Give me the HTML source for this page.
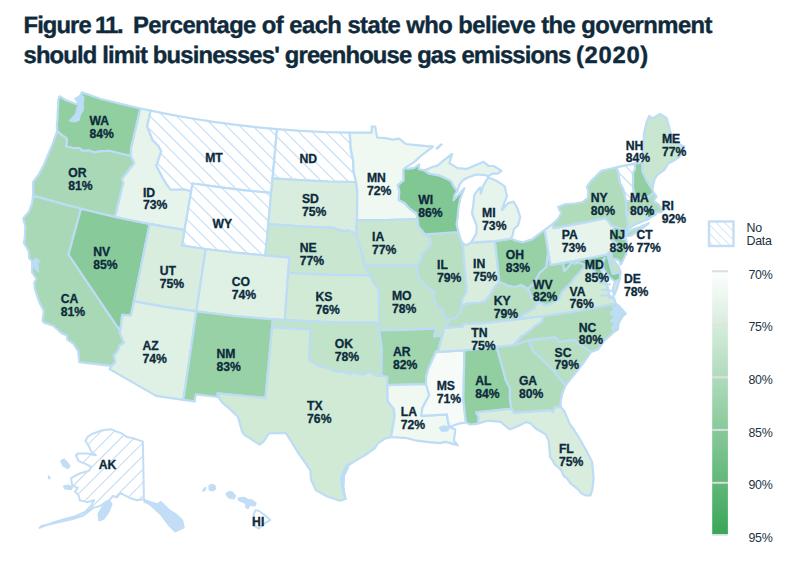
<!DOCTYPE html>
<html><head><meta charset="utf-8">
<style>
html,body{margin:0;padding:0;background:#fff;}
body{width:807px;height:576px;overflow:hidden;position:relative;font-family:"Liberation Sans",sans-serif;}
.title{position:absolute;left:23.5px;top:0;color:#0f2a3b;font-weight:bold;font-size:23.8px;line-height:30.2px;white-space:nowrap;letter-spacing:-0.66px;text-rendering:geometricPrecision;-webkit-text-stroke:0.4px #0f2a3b;}
svg{position:absolute;left:0;top:0;}
.lab text{font-family:"Liberation Sans",sans-serif;font-weight:bold;font-size:12.2px;fill:#0d2a3c;stroke:#0d2a3c;stroke-width:0.3px;}
.leg text{font-family:"Liberation Sans",sans-serif;font-size:12.4px;letter-spacing:-0.3px;fill:#1a3142;}
</style></head><body>
<svg width="807" height="576" viewBox="0 0 807 576">
<defs>
<pattern id="hatch" patternUnits="userSpaceOnUse" width="9.4" height="9.4" patternTransform="translate(-6.7,0) rotate(-45)">
<rect width="9.4" height="9.4" fill="#fff"/><line x1="0" y1="0" x2="0" y2="9.4" stroke="#bcdaf4" stroke-width="2"/>
</pattern>
<pattern id="hatchL" patternUnits="userSpaceOnUse" width="6.1" height="6.1" patternTransform="translate(1,0) rotate(-45)">
<rect width="6.1" height="6.1" fill="#fff"/><line x1="0" y1="0" x2="0" y2="6.1" stroke="#c4ddf4" stroke-width="1.4"/>
</pattern>
<linearGradient id="lg" x1="0" y1="0" x2="0" y2="1">
<stop offset="0" stop-color="#ffffff"/><stop offset="1" stop-color="#3aa658"/>
</linearGradient>
</defs>
<g stroke="#bddcf5" stroke-width="2.2" stroke-linejoin="round">
<path d="M81.8 92.4 L100.9 99.0 L120.6 103.9 L140.4 108.5 L131.0 149.0 L130.8 156.0 L108.5 150.8 L104.7 151.0 L100.6 151.3 L93.9 152.4 L89.2 150.5 L82.8 150.8 L79.4 148.2 L72.0 147.8 L66.0 146.2 L67.1 140.8 L66.2 138.0 L61.8 135.1 L57.2 131.2 L56.8 125.5 L57.5 119.5 L57.8 110.0 L58.4 100.0 L59.4 96.3 L66.0 100.2 L72.0 102.6 L76.5 104.3 L80.5 101.5 L79.5 97.8 L81.8 92.4Z" fill="#91cea0"/>
<path d="M33.0 195.6 L33.2 181.8 L38.6 174.7 L43.5 165.8 L47.1 157.0 L52.7 143.9 L57.2 131.2 L61.8 135.1 L66.2 138.0 L67.1 140.8 L66.0 146.2 L72.0 147.8 L79.4 148.2 L82.8 150.8 L89.2 150.5 L93.9 152.4 L100.6 151.3 L104.7 151.0 L108.5 150.8 L130.8 156.0 L134.3 163.1 L128.9 170.0 L122.1 178.9 L123.4 183.2 L121.7 189.3 L115.1 216.9 L98.0 213.0 L81.0 208.8 L56.9 202.4 L33.0 195.6Z" fill="#a8d8b5"/>
<path d="M33.0 195.6 L56.9 202.4 L81.0 208.8 L68.5 254.6 L120.1 330.9 L119.7 332.9 L124.2 342.9 L119.8 345.3 L117.6 351.3 L113.8 355.3 L115.4 362.1 L111.6 365.8 L79.4 362.2 L78.2 351.1 L73.2 343.5 L67.4 339.7 L67.0 335.6 L62.1 333.6 L53.3 325.7 L44.0 322.6 L42.5 320.6 L43.8 311.1 L39.1 301.7 L34.8 289.0 L34.3 282.5 L36.5 279.0 L35.5 277.5 L32.2 272.5 L32.2 261.0 L29.3 258.5 L28.7 251.0 L24.0 243.2 L24.8 237.7 L25.3 226.3 L23.2 218.4 L29.0 211.7 L32.1 203.5 L33.0 195.6Z" fill="#a8d8b5"/>
<path d="M81.0 208.8 L98.0 213.0 L115.1 216.9 L132.4 220.5 L149.7 223.9 L133.9 301.3 L131.0 315.3 L122.1 314.8 L121.3 323.0 L120.1 330.9 L68.5 254.6 L81.0 208.8Z" fill="#89ca9a"/>
<path d="M140.4 108.5 L150.6 110.7 L147.2 126.4 L149.7 132.7 L152.6 139.9 L158.6 146.0 L161.3 151.4 L156.3 166.0 L158.0 168.7 L162.1 176.7 L166.9 184.7 L170.6 189.4 L175.8 189.5 L184.6 189.3 L191.2 191.2 L184.6 229.9 L167.1 227.1 L149.7 223.9 L132.4 220.5 L115.1 216.9 L121.7 189.3 L123.4 183.2 L122.1 178.9 L128.9 170.0 L134.3 163.1 L130.8 156.0 L131.0 149.0 L140.4 108.5Z" fill="#e7f4eb"/>
<path d="M150.6 110.7 L171.5 114.8 L192.4 118.5 L213.5 121.8 L234.6 124.7 L255.7 127.1 L277.0 129.1 L272.6 178.3 L271.2 192.9 L244.9 190.4 L218.6 187.2 L192.5 183.5 L191.2 191.2 L184.6 189.3 L175.8 189.5 L170.6 189.4 L166.9 184.7 L162.1 176.7 L158.0 168.7 L156.3 166.0 L161.3 151.4 L158.6 146.0 L152.6 139.9 L149.7 132.7 L147.2 126.4 L150.6 110.7Z" fill="url(#hatch)"/>
<path d="M192.5 183.5 L218.6 187.2 L244.9 190.4 L271.2 192.9 L268.3 224.1 L265.3 255.5 L235.5 252.6 L205.7 249.0 L181.9 245.5 L184.6 229.9 L191.2 191.2 L192.5 183.5Z" fill="url(#hatch)"/>
<path d="M149.7 223.9 L167.1 227.1 L184.6 229.9 L181.9 245.5 L205.7 249.0 L196.4 311.4 L165.1 306.8 L133.9 301.3 L149.7 223.9Z" fill="#d8eddd"/>
<path d="M205.7 249.0 L235.5 252.6 L265.3 255.5 L289.3 257.3 L288.2 273.0 L284.8 320.2 L272.8 319.4 L234.5 316.0 L196.4 311.4 L205.7 249.0Z" fill="#dff1e4"/>
<path d="M133.9 301.3 L165.1 306.8 L196.4 311.4 L183.4 399.8 L156.1 395.9 L109.6 369.1 L111.6 365.8 L115.4 362.1 L113.8 355.3 L117.6 351.3 L119.8 345.3 L124.2 342.9 L119.7 332.9 L120.1 330.9 L121.3 323.0 L122.1 314.8 L131.0 315.3 L133.9 301.3Z" fill="#dff1e4"/>
<path d="M196.4 311.4 L234.5 316.0 L272.8 319.4 L272.1 327.3 L265.5 397.9 L217.5 393.4 L218.3 397.0 L195.7 394.3 L194.7 401.3 L183.4 399.8 L196.4 311.4Z" fill="#99d1a7"/>
<path d="M277.0 129.1 L301.1 130.9 L325.3 132.1 L349.6 132.7 L350.3 140.7 L350.7 148.7 L353.2 160.9 L353.6 171.4 L356.1 182.0 L328.2 181.5 L300.4 180.2 L272.6 178.3 L277.0 129.1Z" fill="url(#hatch)"/>
<path d="M272.6 178.3 L300.4 180.2 L328.2 181.5 L356.1 182.0 L357.3 192.0 L357.0 220.2 L356.3 228.1 L356.8 236.0 L353.3 232.8 L348.1 230.4 L344.5 231.1 L339.3 230.2 L332.9 227.7 L303.8 226.6 L268.3 224.1 L271.2 192.9 L272.6 178.3Z" fill="#d8eddd"/>
<path d="M268.3 224.1 L303.8 226.6 L332.9 227.7 L339.3 230.2 L344.5 231.1 L348.1 230.4 L353.3 232.8 L356.8 236.0 L359.1 243.8 L361.4 251.7 L362.9 256.4 L364.7 265.9 L370.3 275.3 L329.2 274.9 L288.2 273.0 L289.3 257.3 L265.3 255.5 L268.3 224.1Z" fill="#c8e6d0"/>
<path d="M288.2 273.0 L329.2 274.9 L370.3 275.3 L373.4 282.4 L378.9 289.4 L379.1 322.6 L331.9 322.3 L284.8 320.2 L288.2 273.0Z" fill="#d0ead6"/>
<path d="M272.8 319.4 L284.8 320.2 L331.9 322.3 L379.1 322.6 L379.2 330.5 L381.8 347.8 L381.4 375.5 L375.8 376.2 L370.5 371.5 L362.6 374.7 L354.0 372.3 L350.6 373.8 L342.7 372.2 L334.2 371.2 L327.6 367.9 L319.1 366.1 L314.0 363.1 L308.9 360.0 L310.4 329.5 L272.1 327.3 L272.8 319.4Z" fill="#c0e3c9"/>
<path d="M272.1 327.3 L310.4 329.5 L308.9 360.0 L314.0 363.1 L319.1 366.1 L327.6 367.9 L334.2 371.2 L342.7 372.2 L350.6 373.8 L354.0 372.3 L362.6 374.7 L370.5 371.5 L375.8 376.2 L381.4 375.5 L387.3 376.8 L387.4 385.1 L387.6 401.2 L393.8 408.9 L394.6 416.7 L392.7 427.7 L391.0 437.1 L384.6 438.8 L377.6 443.6 L375.0 448.0 L365.3 455.0 L355.6 460.6 L347.2 466.1 L344.4 471.7 L341.7 480.0 L343.0 491.1 L345.8 498.8 L340.3 500.8 L327.8 496.7 L316.0 490.4 L311.1 480.0 L310.4 472.4 L310.6 470.8 L305.3 462.8 L297.3 451.5 L291.5 441.9 L285.8 432.9 L277.4 433.2 L269.0 433.5 L263.5 441.7 L259.7 444.5 L253.7 440.9 L244.2 434.7 L242.0 431.3 L237.9 416.8 L229.7 408.9 L222.2 402.6 L218.3 397.0 L217.5 393.4 L265.5 397.9 L272.1 327.3Z" fill="#d0ead6"/>
<path d="M349.6 132.7 L371.8 132.7 L371.7 126.6 L375.2 126.6 L377.1 137.5 L385.2 138.2 L392.7 139.6 L399.1 138.6 L405.8 144.0 L416.6 145.1 L426.4 146.2 L433.0 146.6 L421.5 155.3 L414.1 162.1 L405.5 167.7 L403.4 169.9 L403.7 180.4 L397.7 185.3 L399.4 191.5 L398.7 200.1 L404.5 203.0 L409.3 208.3 L416.4 213.5 L417.6 219.0 L387.3 220.0 L357.0 220.2 L357.3 192.0 L356.1 182.0 L353.6 171.4 L353.2 160.9 L350.7 148.7 L350.3 140.7 L349.6 132.7Z" fill="#eff8f1"/>
<path d="M357.0 220.2 L387.3 220.0 L417.6 219.0 L418.7 226.8 L425.1 234.3 L430.5 238.7 L430.9 245.0 L426.4 250.0 L421.8 254.2 L420.9 259.7 L418.1 264.6 L417.4 268.1 L413.5 264.8 L389.7 265.6 L364.7 265.9 L362.9 256.4 L361.4 251.7 L359.1 243.8 L356.8 236.0 L356.3 228.1 L357.0 220.2Z" fill="#c8e6d0"/>
<path d="M364.7 265.9 L389.7 265.6 L413.5 264.8 L417.4 268.1 L418.7 278.0 L426.4 286.3 L434.1 291.4 L433.7 295.4 L436.2 304.7 L442.8 310.6 L445.2 318.4 L448.8 320.0 L448.7 322.9 L444.2 327.9 L442.5 335.9 L433.9 336.4 L436.3 328.4 L406.2 329.8 L379.2 330.5 L379.1 322.6 L378.9 289.4 L373.4 282.4 L370.3 275.3 L364.7 265.9Z" fill="#c0e3c9"/>
<path d="M379.2 330.5 L406.2 329.8 L436.3 328.4 L433.9 336.4 L442.5 335.9 L440.3 342.4 L438.8 349.6 L435.7 352.1 L432.2 360.2 L428.6 368.3 L426.3 376.3 L426.0 384.2 L387.4 385.1 L387.3 376.8 L381.4 375.5 L381.8 347.8 L379.2 330.5Z" fill="#a0d5ae"/>
<path d="M426.0 384.2 L387.4 385.1 L387.6 401.2 L393.8 408.9 L394.6 416.7 L392.7 427.7 L391.0 437.1 L406.2 438.0 L416.8 440.7 L428.7 442.1 L440.0 443.1 L445.6 441.9 L457.7 445.1 L453.9 440.6 L455.3 429.6 L449.5 427.1 L447.8 420.7 L447.0 414.4 L421.3 415.8 L422.4 407.9 L429.3 395.0 L426.0 384.2Z" fill="#eff8f1"/>
<path d="M435.7 352.1 L463.0 350.3 L464.4 351.7 L463.4 399.1 L464.8 413.2 L465.9 422.5 L457.7 423.9 L449.5 427.1 L447.8 420.7 L447.0 414.4 L421.3 415.8 L422.4 407.9 L429.3 395.0 L426.0 384.2 L426.3 376.3 L428.6 368.3 L432.2 360.2 L435.7 352.1Z" fill="#f7fbf8"/>
<path d="M463.0 350.3 L496.7 347.1 L505.9 380.2 L510.0 388.4 L509.9 399.5 L511.6 408.8 L476.1 412.3 L478.6 416.8 L478.2 423.4 L474.3 424.2 L470.2 424.5 L465.9 422.5 L464.8 413.2 L463.4 399.1 L464.4 351.7 L463.0 350.3Z" fill="#91cea0"/>
<path d="M518.4 319.2 L543.7 316.0 L541.7 321.7 L537.0 324.7 L530.0 330.5 L521.6 336.3 L517.1 341.7 L513.3 345.3 L496.7 347.1 L463.0 350.3 L435.7 352.1 L438.8 349.6 L440.3 342.4 L442.5 335.9 L444.2 327.9 L463.0 326.5 L462.9 324.2 L482.6 323.2 L518.4 319.2Z" fill="#d8eddd"/>
<path d="M518.4 319.2 L482.6 323.2 L462.9 324.2 L463.0 326.5 L444.2 327.9 L448.7 322.9 L448.8 320.0 L456.0 317.6 L461.2 311.7 L461.7 306.1 L467.5 303.2 L478.8 303.0 L484.9 301.1 L489.1 296.4 L494.2 287.9 L499.4 281.8 L507.6 285.6 L515.3 287.0 L521.2 284.7 L528.1 289.0 L531.8 297.6 L537.9 301.8 L534.7 308.3 L525.1 313.6 L518.4 319.2Z" fill="#b8dfc2"/>
<path d="M458.4 232.0 L425.1 234.3 L430.5 238.7 L430.9 245.0 L426.4 250.0 L421.8 254.2 L420.9 259.7 L418.1 264.6 L417.4 268.1 L418.7 278.0 L426.4 286.3 L434.1 291.4 L433.7 295.4 L436.2 304.7 L442.8 310.6 L445.2 318.4 L448.8 320.0 L456.0 317.6 L461.2 311.7 L461.7 306.1 L462.1 298.9 L466.0 293.1 L466.7 287.4 L465.8 281.2 L462.7 243.3 L460.8 239.7 L458.4 232.0Z" fill="#b8dfc2"/>
<path d="M462.7 243.3 L466.1 245.3 L471.0 242.6 L495.0 241.1 L499.4 281.8 L494.2 287.9 L489.1 296.4 L484.9 301.1 L478.8 303.0 L467.5 303.2 L461.7 306.1 L462.1 298.9 L466.0 293.1 L466.7 287.4 L465.8 281.2 L462.7 243.3Z" fill="#d8eddd"/>
<path d="M495.0 241.1 L510.9 238.7 L516.6 240.8 L522.8 242.3 L532.0 239.4 L538.5 234.5 L544.7 229.8 L548.1 250.7 L547.9 255.3 L547.0 261.1 L546.6 266.7 L540.1 272.5 L536.6 278.6 L533.0 283.9 L528.1 289.0 L521.2 284.7 L515.3 287.0 L507.6 285.6 L499.4 281.8 L495.0 241.1Z" fill="#99d1a7"/>
<path d="M425.1 234.3 L418.7 226.8 L417.6 219.0 L416.4 213.5 L409.3 208.3 L404.5 203.0 L398.7 200.1 L399.4 191.5 L397.7 185.3 L403.7 180.4 L403.4 169.9 L405.5 167.7 L407.8 168.9 L414.4 167.8 L419.2 164.3 L418.8 169.2 L424.2 170.4 L429.1 173.5 L439.2 175.3 L445.0 178.1 L450.8 180.8 L454.1 186.8 L457.3 191.2 L454.7 194.6 L453.5 200.2 L458.2 195.0 L464.4 188.2 L460.2 198.8 L458.6 206.8 L457.7 216.3 L456.6 224.3 L458.4 232.0 L425.1 234.3Z" fill="#81c793"/>
<path d="M457.3 191.2 L459.6 184.7 L462.6 180.5 L467.4 177.7 L476.1 174.5 L485.1 175.1 L488.1 176.4 L492.8 173.4 L497.9 173.6 L501.5 170.7 L493.6 166.0 L488.5 165.8 L483.7 161.8 L474.1 165.8 L466.6 168.9 L457.6 168.1 L449.4 163.1 L452.0 154.0 L443.7 160.3 L437.5 165.6 L433.1 166.7 L424.2 170.4 L429.1 173.5 L439.2 175.3 L445.0 178.1 L450.8 180.8 L454.1 186.8 L457.3 191.2ZM471.0 242.6 L476.3 233.6 L476.7 225.6 L472.0 213.5 L473.4 203.9 L474.2 195.1 L477.7 190.1 L480.2 187.4 L480.9 193.7 L483.0 186.4 L485.3 182.2 L488.4 177.4 L495.3 180.2 L504.6 186.2 L507.0 196.1 L504.0 203.6 L501.9 210.2 L508.0 203.1 L513.6 201.6 L517.4 208.2 L520.2 217.3 L518.0 225.5 L513.8 229.2 L512.8 234.9 L510.9 238.7 L495.0 241.1 L471.0 242.6Z" fill="#e7f4eb"/>
<path d="M496.7 347.1 L513.3 345.3 L528.7 340.2 L530.6 344.7 L532.8 350.8 L540.4 357.7 L547.4 364.6 L554.5 371.5 L559.7 378.7 L565.5 385.3 L562.1 394.2 L560.6 402.4 L560.6 406.8 L554.4 407.7 L553.0 412.2 L550.6 410.1 L514.1 413.2 L511.6 408.8 L509.9 399.5 L510.0 388.4 L505.9 380.2 L496.7 347.1Z" fill="#b0dcbb"/>
<path d="M511.6 408.8 L476.1 412.3 L478.6 416.8 L478.2 423.4 L487.9 420.6 L500.5 421.8 L509.7 429.4 L520.5 425.1 L525.7 422.1 L530.0 423.0 L536.3 429.0 L545.6 434.2 L548.7 440.8 L549.6 450.6 L550.0 456.8 L552.6 460.3 L554.5 464.4 L558.9 467.9 L561.7 471.0 L563.5 475.6 L567.2 478.6 L570.5 483.4 L578.3 489.6 L581.5 493.6 L586.0 495.5 L590.5 495.3 L592.4 489.4 L593.6 478.3 L592.5 466.0 L592.0 461.7 L586.3 450.5 L579.3 438.3 L573.5 429.0 L569.6 423.7 L564.4 411.2 L560.6 406.8 L554.4 407.7 L553.0 412.2 L550.6 410.1 L514.1 413.2 L511.6 408.8Z" fill="#d8eddd"/>
<path d="M528.7 340.2 L539.0 338.8 L555.2 337.2 L557.5 339.2 L559.3 341.8 L573.5 339.8 L591.0 352.0 L584.1 362.0 L576.3 372.1 L569.5 380.4 L565.5 385.3 L559.7 378.7 L554.5 371.5 L547.4 364.6 L540.4 357.7 L532.8 350.8 L530.6 344.7 L528.7 340.2Z" fill="#b8dfc2"/>
<path d="M513.3 345.3 L517.1 341.7 L521.6 336.3 L530.0 330.5 L537.0 324.7 L541.7 321.7 L543.7 316.0 L568.2 312.3 L592.6 308.2 L615.5 303.4 L619.0 306.0 L625.8 313.7 L622.3 316.7 L618.5 323.6 L618.0 329.3 L613.6 332.3 L610.9 334.9 L603.6 341.5 L598.0 349.5 L591.0 352.0 L573.5 339.8 L559.3 341.8 L557.5 339.2 L555.2 337.2 L539.0 338.8 L528.7 340.2 L513.3 345.3Z" fill="#b0dcbb"/>
<path d="M543.7 316.0 L518.4 319.2 L525.1 313.6 L534.7 308.3 L537.9 301.8 L545.7 305.1 L551.8 303.4 L558.8 299.1 L561.5 292.3 L569.1 284.6 L575.8 276.2 L580.5 271.4 L585.4 265.3 L591.9 268.4 L595.1 271.8 L597.0 277.9 L606.2 282.5 L608.1 288.5 L609.4 297.9 L614.0 297.8 L615.5 303.4 L592.6 308.2 L568.2 312.3 L543.7 316.0ZM619.7 279.2 L617.1 288.3 L614.1 295.4 L612.8 289.2 L615.0 281.5 L619.7 279.2 L615.0 281.5Z" fill="#d0ead6"/>
<path d="M563.0 262.9 L550.5 265.0 L548.1 250.7 L547.9 255.3 L547.0 261.1 L546.6 266.7 L540.1 272.5 L536.6 278.6 L533.0 283.9 L528.1 289.0 L531.8 297.6 L537.9 301.8 L545.7 305.1 L551.8 303.4 L558.8 299.1 L561.5 292.3 L569.1 284.6 L575.8 276.2 L580.5 271.4 L585.4 265.3 L578.8 262.1 L575.3 263.5 L571.4 262.6 L568.9 266.2 L564.4 271.0 L563.0 262.9Z" fill="#a0d5ae"/>
<path d="M563.0 262.9 L585.2 258.9 L607.4 254.5 L612.7 273.9 L620.6 272.2 L619.7 279.2 L615.0 281.5 L609.5 277.0 L603.3 268.6 L603.2 262.2 L604.8 257.8 L600.8 262.6 L600.9 269.1 L604.5 277.2 L606.2 282.5 L597.0 277.9 L595.1 271.8 L591.9 268.4 L585.4 265.3 L578.8 262.1 L575.3 263.5 L571.4 262.6 L568.9 266.2 L564.4 271.0 L563.0 262.9Z" fill="#89ca9a"/>
<path d="M611.5 252.4 L608.6 252.3 L607.4 254.5 L612.7 273.9 L620.6 272.2 L618.8 266.9 L613.4 260.0 L610.6 255.8 L611.5 252.4Z" fill="#c0e3c9"/>
<path d="M544.7 229.8 L552.8 223.9 L553.6 228.1 L579.9 223.4 L604.8 218.4 L607.7 220.1 L610.9 225.1 L614.8 226.5 L611.2 233.1 L611.4 239.5 L617.3 243.8 L615.2 248.3 L611.5 252.4 L608.6 252.3 L607.4 254.5 L585.2 258.9 L563.0 262.9 L550.5 265.0 L548.1 250.7 L544.7 229.8Z" fill="#e7f4eb"/>
<path d="M614.8 226.5 L625.2 230.0 L625.0 234.9 L622.8 238.9 L626.1 238.7 L626.8 244.2 L626.0 254.1 L621.7 263.1 L620.5 264.5 L619.2 260.4 L611.7 258.0 L611.5 252.4 L615.2 248.3 L617.3 243.8 L611.4 239.5 L611.2 233.1 L614.8 226.5Z" fill="#99d1a7"/>
<path d="M552.8 223.9 L557.6 219.4 L561.2 213.2 L558.2 207.0 L564.3 204.4 L574.8 203.5 L582.8 202.0 L587.9 197.8 L588.1 190.5 L586.8 186.8 L590.8 181.2 L601.4 170.9 L616.9 167.2 L618.7 175.0 L620.0 182.7 L623.3 188.9 L626.1 201.5 L626.2 212.8 L628.4 224.4 L627.0 227.9 L628.1 229.3 L627.0 232.0 L625.0 234.9 L625.2 230.0 L614.8 226.5 L610.9 225.1 L607.7 220.1 L604.8 218.4 L579.9 223.4 L553.6 228.1 L552.8 223.9ZM625.0 236.5 L631.5 235.3 L639.1 230.8 L648.8 223.2 L640.6 226.7 L631.5 230.1 L627.2 232.7Z" fill="#b0dcbb"/>
<path d="M616.9 167.2 L634.8 163.6 L635.2 169.1 L632.9 173.4 L633.3 178.6 L632.9 186.5 L635.4 199.6 L626.1 201.5 L623.3 188.9 L620.0 182.7 L618.7 175.0 L616.9 167.2Z" fill="url(#hatch)"/>
<path d="M634.8 163.6 L642.5 162.5 L642.4 170.8 L645.9 178.6 L649.3 184.7 L652.3 189.0 L653.5 192.7 L649.3 196.6 L635.4 199.6 L632.9 186.5 L633.3 178.6 L632.9 173.4 L635.2 169.1 L634.8 163.6Z" fill="#91cea0"/>
<path d="M642.5 162.5 L642.8 150.0 L643.5 139.4 L644.3 132.0 L646.7 121.7 L649.3 115.9 L652.4 118.5 L660.2 113.9 L666.5 118.0 L668.5 124.8 L670.1 131.0 L673.8 140.4 L677.9 143.5 L684.2 146.7 L684.2 150.8 L679.0 157.1 L673.5 160.8 L668.3 163.4 L664.4 169.9 L660.6 172.6 L657.1 175.2 L654.5 179.5 L652.3 189.0 L649.3 184.7 L645.9 178.6 L642.4 170.8 L642.5 162.5Z" fill="#c8e6d0"/>
<path d="M626.1 201.5 L635.4 199.6 L649.3 196.6 L653.5 192.7 L656.5 196.3 L653.6 201.1 L658.8 204.6 L661.2 208.9 L668.5 208.6 L665.7 202.8 L665.2 207.8 L660.9 212.2 L656.6 212.5 L655.7 214.4 L650.6 207.3 L645.7 208.5 L626.2 212.8 L626.1 201.5Z" fill="#b0dcbb"/>
<path d="M626.2 212.8 L645.7 208.5 L647.9 219.3 L641.8 221.7 L635.0 224.4 L628.1 229.3 L627.0 227.9 L628.4 224.4 L626.2 212.8Z" fill="#c8e6d0"/>
<path d="M645.7 208.5 L650.6 207.3 L655.7 214.4 L652.6 216.0 L647.9 219.3 L645.7 208.5Z" fill="#52b26a"/>
</g>
<g fill="#bddcf5" stroke="#bddcf5" stroke-width="1" stroke-linejoin="round">
<path d="M32.2 261 L36.1 257.8 L40.8 261.7 L37.8 262.5 L38.7 272.6 L33 266.9 Z"/>
<path d="M612 306 L618.5 306.5 L624 313.5 L620.5 316.5 L617 322.5 L616.5 328 L612.5 330.5 L611.5 327 L614.5 323.5 L610 321 L614 317 L609.5 313 L613.5 309.5 Z"/>
<path d="M439 427.5 L444 425.8 L449.5 427 L448 431 L441.5 431.2 Z"/>
<path d="M435.5 148.5 L440.5 144 L442.8 144.3 L437.5 149.2 Z"/>
<path d="M340.5 478 L343.5 470 L346 465.5 L350 462.5 L348 469 L344.5 476 L344 487 L345.5 497.5 L342.5 492 L341.5 484 Z"/>
<path d="M74.6 98.5 L81.8 94.2 L84.2 97.4 L83.2 104.1 L83.7 109.8 L80.3 115.6 L79.4 120.3 L74.6 122.2 L68.9 120.8 L75.6 113.7 L76.5 108.9 L78.4 104.1 Z"/>
</g>
<g stroke="#bddcf5" stroke-width="2" fill="none" stroke-linecap="round">
<path d="M599 283 L605 283.5 L610 284.5"/><path d="M602 289.5 L607 290 L611.5 291"/><path d="M601 295.5 L607 295.5 L612.5 296.5"/>
</g>
<defs>
<pattern id="hatch2" patternUnits="userSpaceOnUse" width="9.4" height="9.4" patternTransform="rotate(45)">
<rect width="9.4" height="9.4" fill="#fff"/><line x1="0" y1="0" x2="0" y2="9.4" stroke="#bcdaf4" stroke-width="1.9"/>
</pattern>
</defs>
<g stroke="#c2ddf5" stroke-width="2" stroke-linejoin="round" fill="url(#hatch2)">
<path d="M87.3 437.2 L92 434 L98.8 431.5 L104 430 L111.3 429.2 L115.8 431.4 L121 433 L127 437.1 L134 438.5 L142.9 441.6
 L143.9 499.3
 L136.5 500.3 L130 498 L124 494.8 L120.5 493 L117 497.5 L113 496 L109 500.5 L106.7 501.4 L100 506 L93 507.9 L83.5 515.5 L72 519.3 L62.5 521.2 L51 524.1 L41.5 526 L39.5 527.9
 L45 525.5 L55 522 L65 519 L75 516.5 L85 512 L91 506 L94 500.2 L87.3 502.1 L79.7 500.2 L78.7 495.4 L74.9 491.6 L77.7 487.8 L72 484.9 L71.1 478.2
 L79.7 473.5 L89.2 470.6 L91.1 466.8 L85.4 463.9 L78.7 461.1 L75.8 455.3 L77.7 453.4 L87.3 453.4 L95.9 455.3 L91.1 451.5 L89.2 446.7 L85.4 441 Z"/>
</g>
<g fill="#c2ddf5" stroke="#c2ddf5" stroke-width="1.2" stroke-linejoin="round">
<path d="M143.9 499.3 L149.9 501.5 L157.3 503.8 L161 501.6 L169.2 509.7 L176 514 L182.6 520.1 L184.1 527.6 L175.2 532 L169.2 526.1 L160.3 514.2 L150 505 L144 502 Z"/>
<path d="M60.6 461 L64 459 L67 462 L70.1 466 L68 468.7 L63 466 Z"/>
<path d="M63.4 486 L68 485 L73 487 L71 489.7 L65 489 Z"/>
<path d="M48.5 476 L50 477 L49.5 479 L48.3 478 Z"/>
<path d="M98 514 L102 507 L106 503 L110 501 L112 504 L109 512 L104 519 L99 521 Z"/>
</g>
<g fill="#c2ddf5" stroke="#c2ddf5" stroke-width="1.2" stroke-linejoin="round">
<path d="M202.5 490.9 L204.5 488 L206 487.4 L205.5 489.5 L203.5 491.2 Z"/>
<path d="M209 485.5 L212 484.2 L215 485.5 L215.5 489 L212.5 491 L209.2 490 Z"/>
<path d="M226 493.5 L230 491.4 L233 492.5 L235.7 496 L234 498.8 L230 498.5 L227.5 496.5 Z"/>
<path d="M238.1 498 L244 497.3 L247.5 499 L252 500 L256 503 L255 506 L250 505.5 L248 508.7 L245.5 507 L246 503.5 L241 501.5 L238.5 500.5 Z"/>
</g>
<path d="M255.5 510.2 L258.5 510.7 L264 514.5 L270.3 520.1 L265 523 L259 528.6 L255.5 526.6 L254.5 521 L253.5 514.7 Z" fill="#fff" stroke="#c2ddf5" stroke-width="2" stroke-linejoin="round"/>

<g class="lab">
<text x="89.4" y="125.4">WA</text><text x="89.4" y="138.2">84%</text>
<text x="68.3" y="177.4">OR</text><text x="68.3" y="190.2">81%</text>
<text x="142.9" y="196.6">ID</text><text x="142.9" y="209.4">73%</text>
<text x="93.3" y="256.4">NV</text><text x="93.3" y="269.2">85%</text>
<text x="159.8" y="275.1">UT</text><text x="159.8" y="287.9">75%</text>
<text x="231.7" y="285.9">CO</text><text x="231.7" y="298.7">74%</text>
<text x="212.5" y="228.1">WY</text>
<text x="205.2" y="161.9">MT</text>
<text x="299.5" y="162.9">ND</text>
<text x="301.9" y="203.0">SD</text><text x="301.9" y="215.8">75%</text>
<text x="299.8" y="252.2">NE</text><text x="299.8" y="265.0">77%</text>
<text x="315.4" y="300.8">KS</text><text x="315.4" y="313.6">76%</text>
<text x="372.0" y="241.4">IA</text><text x="372.0" y="254.2">77%</text>
<text x="391.9" y="300.4">MO</text><text x="391.9" y="313.2">78%</text>
<text x="60.8" y="303.1">CA</text><text x="60.8" y="315.9">81%</text>
<text x="142.5" y="350.2">AZ</text><text x="142.5" y="363.0">74%</text>
<text x="216.5" y="358.1">NM</text><text x="216.5" y="370.9">83%</text>
<text x="307.1" y="409.9">TX</text><text x="307.1" y="422.7">76%</text>
<text x="334.8" y="348.4">OK</text><text x="334.8" y="361.2">78%</text>
<text x="393.0" y="356.3">AR</text><text x="393.0" y="369.1">82%</text>
<text x="400.8" y="416.4">LA</text><text x="400.8" y="429.2">72%</text>
<text x="436.7" y="390.0">MS</text><text x="436.7" y="402.8">71%</text>
<text x="475.3" y="384.9">AL</text><text x="475.3" y="397.7">84%</text>
<text x="518.9" y="384.9">GA</text><text x="518.9" y="397.7">80%</text>
<text x="558.9" y="453.2">FL</text><text x="558.9" y="466.0">75%</text>
<text x="554.6" y="356.6">SC</text><text x="554.6" y="369.4">79%</text>
<text x="578.7" y="331.6">NC</text><text x="578.7" y="344.4">80%</text>
<text x="471.3" y="337.4">TN</text><text x="471.3" y="350.2">75%</text>
<text x="493.8" y="305.4">KY</text><text x="493.8" y="318.2">79%</text>
<text x="473.0" y="268.4">IN</text><text x="473.0" y="281.2">75%</text>
<text x="437.0" y="268.8">IL</text><text x="437.0" y="281.6">79%</text>
<text x="482.1" y="217.2">MI</text><text x="482.1" y="230.0">73%</text>
<text x="418.2" y="204.1">WI</text><text x="418.2" y="216.9">86%</text>
<text x="366.9" y="182.3">MN</text><text x="366.9" y="195.1">72%</text>
<text x="505.7" y="258.8">OH</text><text x="505.7" y="271.6">83%</text>
<text x="532.9" y="288.5">WV</text><text x="532.9" y="301.3">82%</text>
<text x="569.5" y="295.6">VA</text><text x="569.5" y="308.4">76%</text>
<text x="584.8" y="269.4">MD</text><text x="584.8" y="282.2">85%</text>
<text x="623.9" y="282.8">DE</text><text x="623.9" y="295.6">78%</text>
<text x="561.8" y="239.3">PA</text><text x="561.8" y="252.1">73%</text>
<text x="609.4" y="238.7">NJ</text><text x="609.4" y="251.5">83%</text>
<text x="636.5" y="238.7">CT</text><text x="636.5" y="251.5">77%</text>
<text x="661.8" y="210.1">RI</text><text x="661.8" y="222.9">92%</text>
<text x="629.9" y="201.7">MA</text><text x="629.9" y="214.5">80%</text>
<text x="590.8" y="201.9">NY</text><text x="590.8" y="214.7">80%</text>
<text x="625.8" y="149.5">NH</text><text x="625.8" y="162.3">84%</text>
<text x="661.9" y="142.9">ME</text><text x="661.9" y="155.7">77%</text>
<text x="98.8" y="469.0">AK</text>
<text x="252.1" y="526.2">HI</text>
</g>
<g class="leg">
<rect x="709" y="221.5" width="24.5" height="24.5" fill="url(#hatchL)" stroke="#c4ddf4" stroke-width="2.4"/>
<text x="746.6" y="232">No</text><text x="746.6" y="245">Data</text>
<rect x="712.2" y="270.3" width="15.7" height="264" fill="url(#lg)"/>
<rect x="712.2" y="270.3" width="15.7" height="2" fill="#dcdcdc"/>
<rect x="712.2" y="323.6" width="15.7" height="2" fill="#e2e2e2" opacity="0.9"/>
<rect x="712.2" y="376.3" width="15.7" height="2" fill="#e2e2e2" opacity="0.9"/>
<rect x="712.2" y="428.9" width="15.7" height="2" fill="#e2e2e2" opacity="0.9"/>
<rect x="712.2" y="481.8" width="15.7" height="2" fill="#e2e2e2" opacity="0.9"/>
<rect x="712.2" y="534.3" width="15.7" height="1.6" fill="#e4e4e4"/>
<text x="748.5" y="279">70%</text><text x="748.5" y="331.3">75%</text><text x="748.5" y="384">80%</text>
<text x="748.5" y="436.6">85%</text><text x="748.5" y="489.2">90%</text><text x="748.5" y="542">95%</text>
</g>
</svg>
<div class="title" style="top:10.85px;left:23.5px;letter-spacing:-0.9px">Figure</div>
<div class="title" style="top:10.85px;left:95px;letter-spacing:-1.6px">11.</div>
<div class="title" style="top:10.85px;left:133px;letter-spacing:-0.55px">Percentage of each state who believe the government</div>
<div class="title" style="top:41.05px;left:23.5px;letter-spacing:-0.83px">should limit businesses' greenhouse gas emissions</div>
<div class="title" style="top:41.05px;left:576px;letter-spacing:0.69px">(2020)</div>
</body></html>
